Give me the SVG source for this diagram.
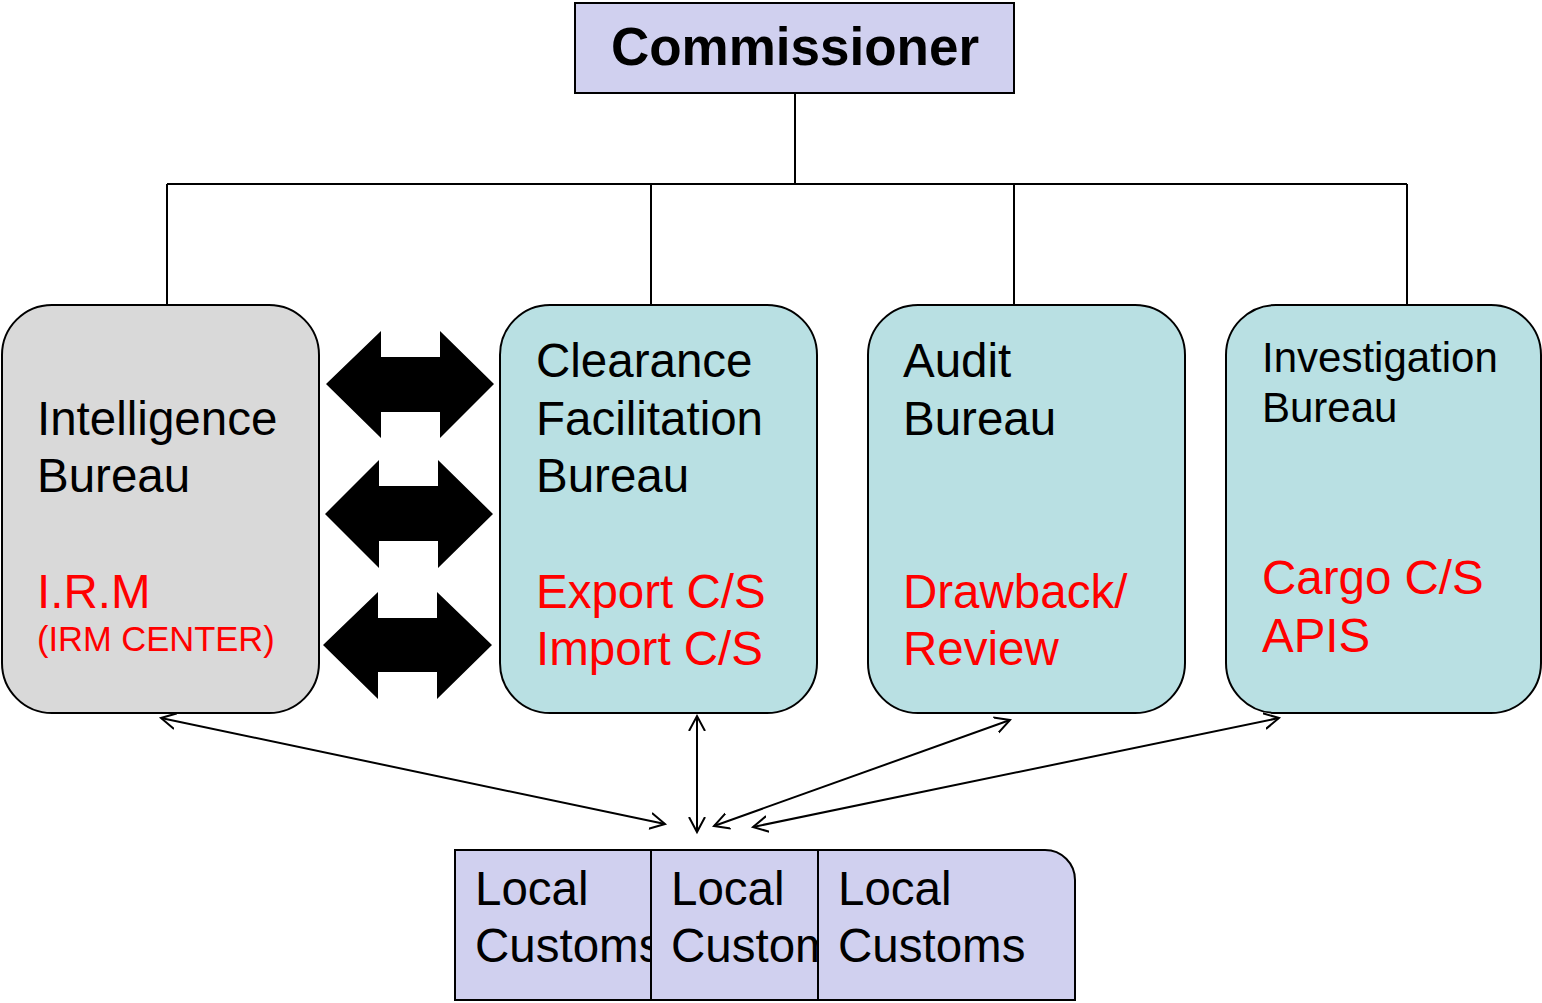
<svg xmlns="http://www.w3.org/2000/svg" width="1542" height="1003" viewBox="0 0 1542 1003">
<defs>
<style>
.t{font-family:"Liberation Sans",Arial,sans-serif;font-size:47.5px;fill:#000}
.r{fill:#ff0000}
.lav{fill:#d0d0ef;stroke:#000;stroke-width:2}
.teal{fill:#b9e0e3;stroke:#000;stroke-width:2}
.gray{fill:#d9d9d9;stroke:#000;stroke-width:2}
.ln{fill:none;stroke:#000;stroke-width:2}
.thin{fill:none;stroke:#000;stroke-width:2;marker-start:url(#ah);marker-end:url(#ah)}
</style>
<marker id="ah" markerUnits="userSpaceOnUse" markerWidth="20" markerHeight="20" refX="15" refY="8" orient="auto-start-reverse" viewBox="0 0 20 16">
<path d="M0,0 L15,8 L0,16" fill="none" stroke="#000" stroke-width="2"/>
</marker>
<clipPath id="c1"><rect x="455" y="850" width="196" height="150"/></clipPath>
<clipPath id="c2"><rect x="651" y="850" width="167" height="150"/></clipPath>
</defs>
<g id="connectors">
<path class="ln" d="M795,93 V184 M167,184 H1407 M167,184 V305 M651,184 V305 M1014,184 V305 M1407,184 V305"/>
<polygon points="326,384 381,331 381,357 440,357 440,331 494,384 440,438 440,412 381,412 381,438" fill="#000"/>
<polygon points="325,514 379,460 379,486 438,486 438,460 493,514 438,568 438,541 379,541 379,568" fill="#000"/>
<polygon points="323,645 378,592 378,618 437,618 437,592 492,645 437,699 437,672 378,672 378,699" fill="#000"/>
<line class="thin" x1="161" y1="718" x2="665" y2="824"/>
<line class="thin" x1="697" y1="716" x2="697" y2="832"/>
<line class="thin" x1="1010" y1="720" x2="714" y2="826"/>
<line class="thin" x1="1279" y1="718" x2="753" y2="827"/>
</g>
<g id="commissioner">
<rect class="lav" x="575" y="3" width="439" height="90"/>
<text class="t" x="795" y="65" text-anchor="middle" style="font-size:53px;font-weight:bold">Commissioner</text>
</g>
<g id="intelligence">
<rect class="gray" x="2" y="305" width="317" height="408" rx="50"/>
<text class="t" x="37" y="435">Intelligence</text>
<text class="t" x="37" y="492">Bureau</text>
<text class="t r" x="37" y="608">I.R.M</text>
<text class="t r" x="37" y="651" style="font-size:34.5px">(IRM CENTER)</text>
</g>
<g id="clearance">
<rect class="teal" x="500" y="305" width="317" height="408" rx="50"/>
<text class="t" x="536" y="377">Clearance</text>
<text class="t" x="536" y="435">Facilitation</text>
<text class="t" x="536" y="492">Bureau</text>
<text class="t r" x="536" y="608">Export C/S</text>
<text class="t r" x="536" y="665">Import C/S</text>
</g>
<g id="audit">
<rect class="teal" x="868" y="305" width="317" height="408" rx="50"/>
<text class="t" x="903" y="377">Audit</text>
<text class="t" x="903" y="435">Bureau</text>
<text class="t r" x="903" y="608">Drawback/</text>
<text class="t r" x="903" y="665">Review</text>
</g>
<g id="investigation">
<rect class="teal" x="1226" y="305" width="315" height="408" rx="50"/>
<text class="t" x="1262" y="372" style="font-size:42px">Investigation</text>
<text class="t" x="1262" y="422" style="font-size:42px">Bureau</text>
<text class="t r" x="1262" y="594">Cargo C/S</text>
<text class="t r" x="1262" y="652">APIS</text>
</g>
<g id="local1">
<rect class="lav" x="455" y="850" width="196" height="150"/>
<g clip-path="url(#c1)">
<text class="t" x="475" y="905">Local</text>
<text class="t" x="475" y="962">Customs</text>
</g>
</g>
<g id="local2">
<rect class="lav" x="651" y="850" width="167" height="150"/>
<g clip-path="url(#c2)">
<text class="t" x="671" y="905">Local</text>
<text class="t" x="671" y="962">Customs</text>
</g>
</g>
<g id="local3">
<path class="lav" d="M818,850 H1045 A30,30 0 0 1 1075,880 V1000 H818 Z"/>
<text class="t" x="838" y="905">Local</text>
<text class="t" x="838" y="962">Customs</text>
</g>
</svg>
